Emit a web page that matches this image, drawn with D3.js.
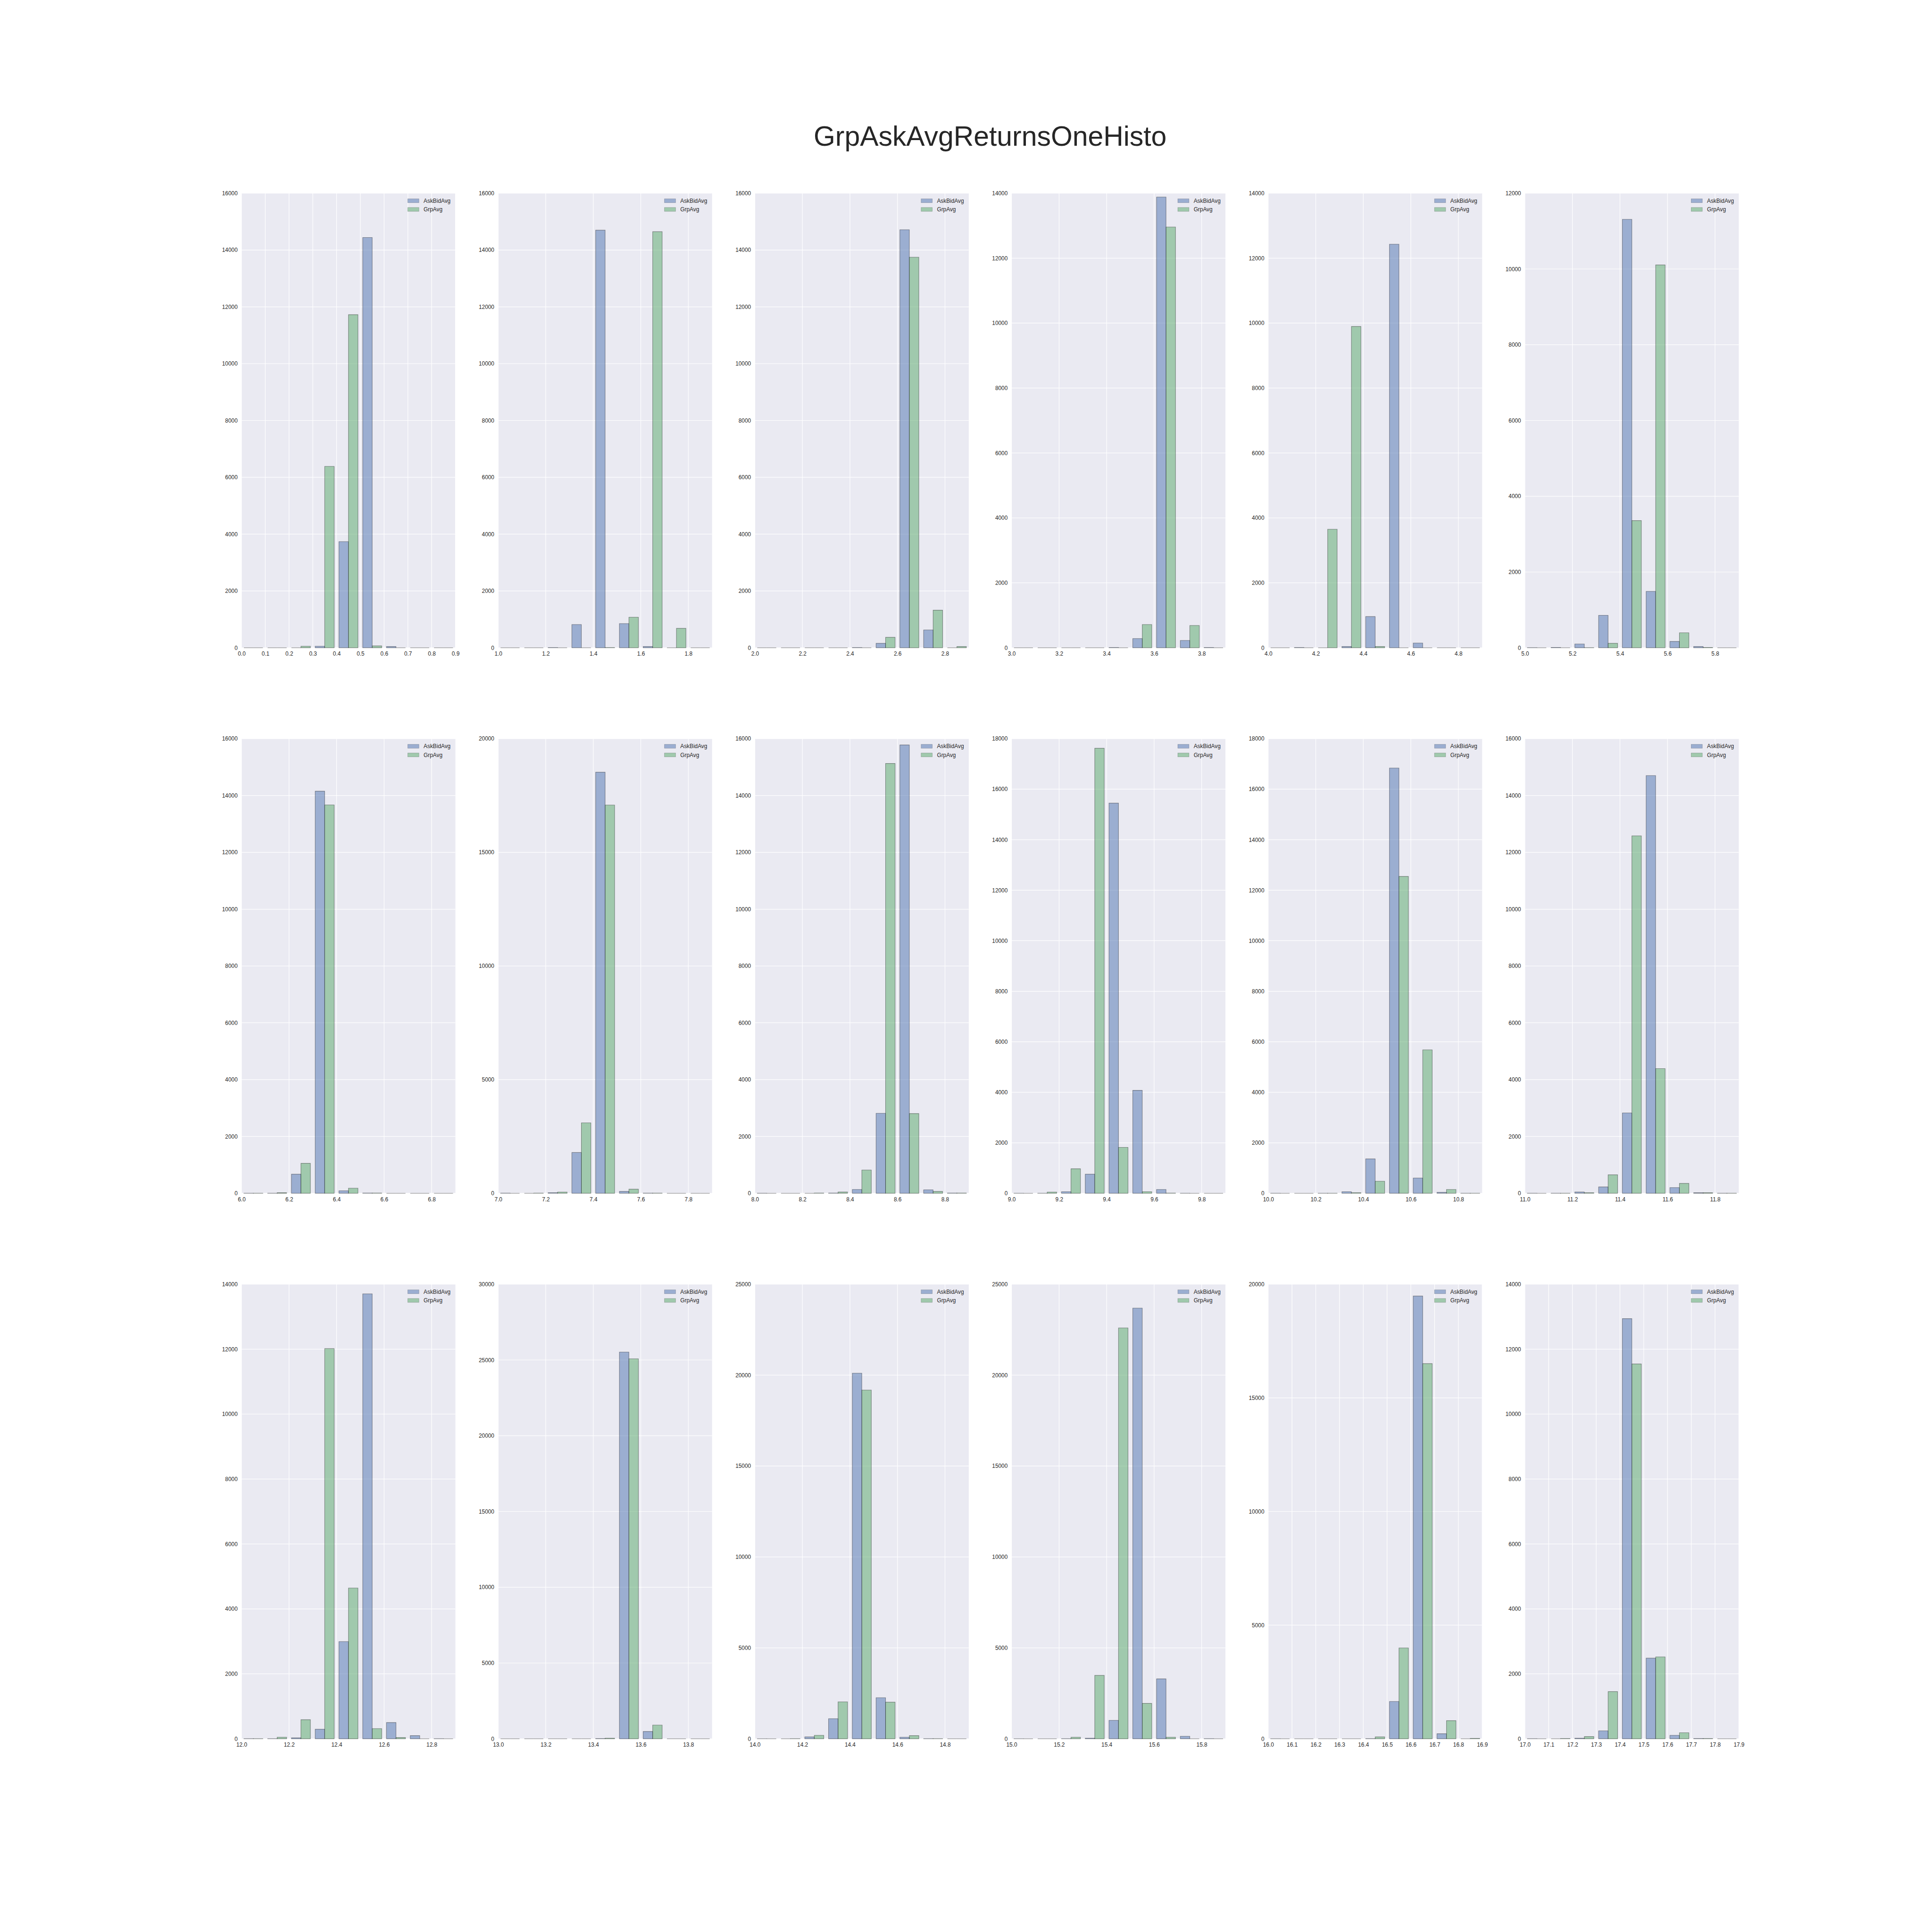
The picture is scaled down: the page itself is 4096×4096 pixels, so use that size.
<!DOCTYPE html>
<html><head><meta charset="utf-8">
<script src="https://cdn.jsdelivr.net/npm/d3@7"></script>
<style>body{margin:0;background:#fff}svg{display:block}</style>
</head><body><svg id="c" width="4096" height="4096"></svg>
<script>
// ---------------- data ----------------
const title = "GrpAskAvgReturnsOneHisto";
const seriesNames = ["AskBidAvg", "GrpAvg"];
const panelStarts = [0,1,2,3,4,5,6,7,8,9,10,11,12,13,14,15,16,17];
const binWidth = 0.1;
const binCount = 9;
const askBidAvg = [
  [0,0,0,55,3736,14440,45,0,0],
  [0,0,10,819,14700,853,45,0,0],
  [0,0,0,0,10,157,14714,628,0],
  [0,0,0,0,10,285,13882,226,10],
  [0,10,0,40,962,12429,147,0,0],
  [5,10,101,858,11310,1490,168,34,0],
  [5,5,673,14153,90,10,0,0,0],
  [10,0,28,1795,18527,84,10,0,0],
  [5,0,0,10,135,2817,15780,123,10],
  [5,5,63,757,15450,4077,151,5,0],
  [5,0,5,63,1363,16840,606,38,5],
  [5,5,45,224,2828,14703,202,20,5],
  [5,5,30,295,2994,13705,501,98,5],
  [0,0,0,0,20,25520,484,0,0],
  [5,0,105,1105,20109,2262,88,10,0],
  [5,0,10,35,1017,23685,3296,140,10],
  [5,0,0,0,10,1641,19481,224,0],
  [5,0,20,245,12940,2484,108,10,0]
];
const grpAvg = [
  [0,0,55,6384,11725,67,0,0,0],
  [0,0,0,0,10,1077,14646,685,0],
  [0,0,0,0,0,370,13748,1324,45],
  [0,0,0,0,0,717,12959,687,0],
  [0,0,3652,9896,40,0,0,0,0],
  [0,0,5,118,3358,10107,396,10,0],
  [5,20,1055,13670,180,10,0,0,0],
  [0,10,56,3100,17083,182,10,0,0],
  [0,0,10,45,819,15129,2806,67,10],
  [0,50,972,17622,1818,63,10,0,0],
  [0,0,5,25,480,12547,5680,151,5],
  [0,5,22,651,12581,4388,348,20,5],
  [5,50,589,12017,4644,314,40,0,0],
  [0,0,0,0,42,25078,905,0,0],
  [0,10,193,2034,19180,2016,175,10,0],
  [0,0,88,3489,22598,1946,88,0,0],
  [0,0,0,0,84,3997,16508,800,20],
  [0,10,69,1453,11545,2523,187,10,0]
];
const yMax  = [16000,16000,16000,14000,14000,12000, 16000,20000,16000,18000,18000,16000, 14000,30000,25000,25000,20000,14000];
const yStep = [2000,2000,2000,2000,2000,2000, 2000,5000,2000,2000,2000,2000, 2000,5000,5000,5000,5000,2000];
const xStep = [0.1,0.2,0.2,0.2,0.2,0.2, 0.2,0.2,0.2,0.2,0.2,0.2, 0.2,0.2,0.2,0.2,0.1,0.1];

// ---------------- layout ----------------
const S = 4096/4800;
const FONT = "'Liberation Sans', Arial, Helvetica, sans-serif";
const TEXT = "#262626";
const colors = ["#4C72B0", "#55A868"];
const axLeft0 = 600*S, axW = 531.43*S, gapW = 106.29*S;
const axTop0 = 480*S, axH = 1129.41*S, gapH = 225.88*S;
const tickFont = 13.9*S;
const pad = 9.7*S;

const svg = d3.select("#c");
svg.append("rect").attr("width",4096).attr("height",4096).attr("fill","#fff");

svg.append("text")
  .attr("x", 2460*S).attr("y", 362*S)
  .attr("text-anchor","middle")
  .attr("font-family", FONT).attr("font-size", 69*S)
  .attr("fill", TEXT).text(title);

panelStarts.forEach((k, p) => {
  const r = Math.floor(p/6), c = p % 6;
  const L = axLeft0 + c*(axW+gapW), T = axTop0 + r*(axH+gapH);
  const g = svg.append("g").attr("transform", `translate(${L},${T})`);
  const x = d3.scaleLinear().domain([k, k + binCount*binWidth]).range([0, axW]);
  const y = d3.scaleLinear().domain([0, yMax[p]]).range([axH, 0]);

  g.append("rect").attr("width", axW).attr("height", axH).attr("fill", "#EAEAF2");

  const nx = Math.round(binCount*binWidth/xStep[p] + 1e-6);
  const xt = d3.range(0, nx+1).map(i => +(k + i*xStep[p]).toFixed(2)).filter(v => v <= k + binCount*binWidth + 1e-9);
  const yt = d3.range(0, Math.round(yMax[p]/yStep[p])+1).map(i => i*yStep[p]);

  // grid
  g.append("g").selectAll("line").data(xt).join("line")
    .attr("x1", d => x(d)).attr("x2", d => x(d)).attr("y1", 0).attr("y2", axH)
    .attr("stroke", "#fff").attr("stroke-width", 1.2);
  g.append("g").selectAll("line").data(yt).join("line")
    .attr("y1", d => y(d)).attr("y2", d => y(d)).attr("x1", 0).attr("x2", axW)
    .attr("stroke", "#fff").attr("stroke-width", 1.2);

  // bars
  [askBidAvg[p], grpAvg[p]].forEach((vals, j) => {
    g.append("g").selectAll("path").data(vals).join("path")
      .attr("d", (v, i) => {
        const left = k + i*binWidth;
        const x0 = x(left + binWidth*(0.1 + 0.4*j));
        const x1 = x(left + binWidth*(0.5 + 0.4*j));
        return `M${x0},${y(0)}H${x1}V${y(v)}H${x0}Z`;
      })
      .attr("fill", colors[j]).attr("fill-opacity", 0.5)
      .attr("stroke", "#000").attr("stroke-opacity", 0.4).attr("stroke-width", 1.1);
  });

  // axes tick labels
  const xa = d3.axisBottom(x).tickValues(xt).tickSize(0).tickPadding(pad).tickFormat(d3.format(".1f"));
  const xg = g.append("g").attr("transform", `translate(0,${axH})`).call(xa);
  const ya = d3.axisLeft(y).tickValues(yt).tickSize(0).tickPadding(pad).tickFormat(d3.format("d"));
  const yg = g.append("g").call(ya);
  [xg, yg].forEach(a => {
    a.select(".domain").remove();
    a.selectAll("text").attr("font-family", FONT).attr("font-size", tickFont).attr("fill", TEXT);
  });

  // legend
  const R = axW;
  seriesNames.forEach((name, j) => {
    const cy = (18.8 + j*21.5)*S;
    g.append("rect")
      .attr("x", R - 118.4*S).attr("y", cy - 4.85*S)
      .attr("width", 27.8*S).attr("height", 9.7*S)
      .attr("fill", colors[j]).attr("fill-opacity", 0.5)
      .attr("stroke", "#000").attr("stroke-opacity", 0.25).attr("stroke-width", 0.8);
    g.append("text")
      .attr("x", R - 79*S).attr("y", cy + 4.8*S)
      .attr("font-family", FONT).attr("font-size", tickFont)
      .attr("fill", TEXT).text(name);
  });
});
</script></body></html>
